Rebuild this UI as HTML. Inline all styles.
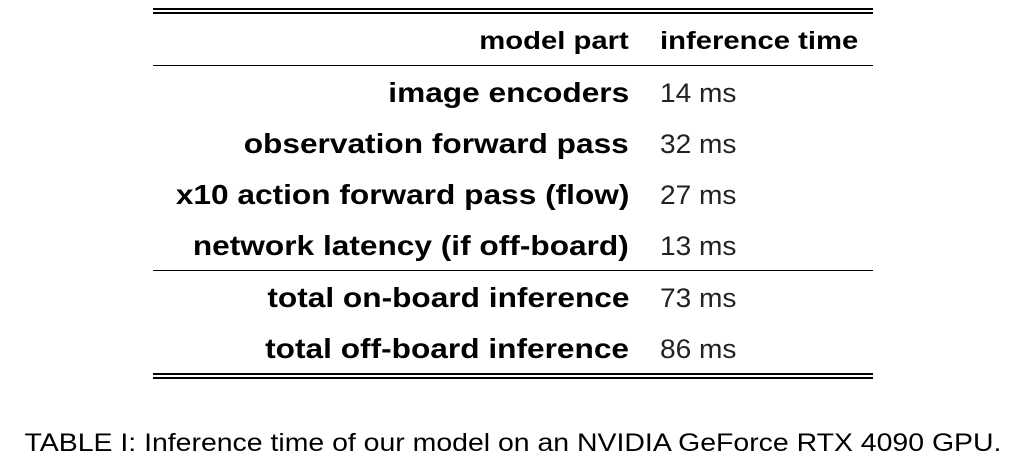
<!DOCTYPE html>
<html><head><meta charset="utf-8"><style>
body{margin:0;width:1026px;height:468px;background:#fff;position:relative;font-family:"Liberation Sans","DejaVu Sans",sans-serif;color:#000;overflow:hidden}
.l{position:absolute;left:153px;width:720px;background:#000}
.r{position:absolute;right:397px;font-weight:bold;font-size:28px;white-space:nowrap;line-height:1;transform:scaleX(1.13);transform-origin:right center}
.v{position:absolute;left:660px;font-size:27px;white-space:nowrap;line-height:1;color:#222;transform:scaleX(1.04);transform-origin:left center}
.h{font-size:25px;transform:scaleX(1.17)}
</style></head><body>
<div class="l" style="top:8px;height:2px"></div>
<div class="l" style="top:12px;height:2px"></div>
<div class="l" style="top:65px;height:1px"></div>
<div class="l" style="top:270px;height:1px"></div>
<div class="l" style="top:373px;height:2px"></div>
<div class="l" style="top:377px;height:2px"></div>
<div class="r h" style="top:29px">model part</div>
<div class="v h" style="top:29px;font-weight:bold;color:#000">inference time</div>
<div class="r" style="top:79px">image encoders</div><div class="v" style="top:80px">14 ms</div>
<div class="r" style="top:130px">observation forward pass</div><div class="v" style="top:131px">32 ms</div>
<div class="r" style="top:181px">x10 action forward pass (flow)</div><div class="v" style="top:182px">27 ms</div>
<div class="r" style="top:232px">network latency (if off-board)</div><div class="v" style="top:233px">13 ms</div>
<div class="r" style="top:284px">total on-board inference</div><div class="v" style="top:285px">73 ms</div>
<div class="r" style="top:335px">total off-board inference</div><div class="v" style="top:336px">86 ms</div>
<div style="position:absolute;left:0;width:1026px;text-align:center;top:431px;font-size:25px;line-height:1;white-space:nowrap;transform:scaleX(1.137)">TABLE I: Inference time of our model on an NVIDIA GeForce RTX 4090 GPU.</div>
</body></html>
